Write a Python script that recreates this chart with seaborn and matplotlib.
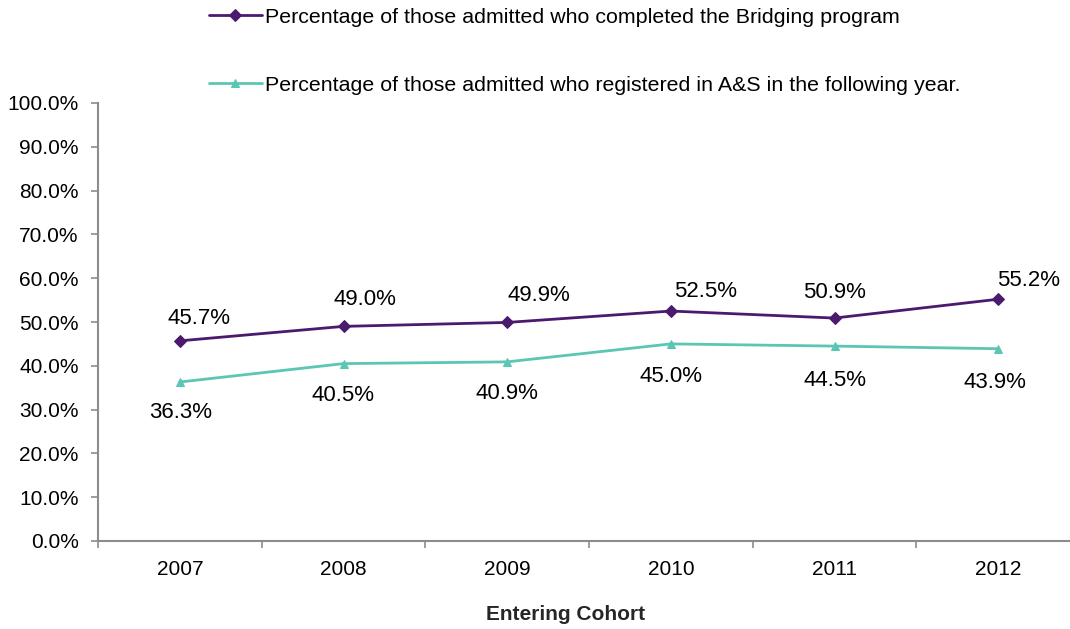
import numpy as np
import pandas as pd
import matplotlib
matplotlib.use("Agg")
import matplotlib.pyplot as plt
import seaborn as sns
from matplotlib.ticker import FixedLocator, PercentFormatter

years = ["2007", "2008", "2009", "2010", "2011", "2012"]
completed = [45.7, 49.0, 49.9, 52.5, 50.9, 55.2]
registered = [36.3, 40.5, 40.9, 45.0, 44.5, 43.9]
label_completed = "Percentage of those admitted who completed the Bridging program"
label_registered = "Percentage of those admitted who registered in A&S in the following year."
y_ticks = [0, 10, 20, 30, 40, 50, 60, 70, 80, 90, 100]

# label offsets in pixels (styling only)
off_completed = [(19, 22), (21, 27), (32, 27), (35, 20), (0, 26), (30, 19)]
off_registered = [(1, -30), (0, -32), (0, -32), (0, -33), (0, -34), (-3, -34)]

sns.set_theme(style="white")
plt.rcParams["font.family"] = ["Liberation Sans", "DejaVu Sans"]

purple = "#4B1A6E"
teal = "#5CC6B4"
gray = "#8C8C8C"

fig = plt.figure(figsize=(10.70, 6.29), dpi=100)
ax = fig.add_axes([98 / 1070, 88 / 629, 982 / 1070, 438 / 629])

x = np.arange(len(years))
df1 = pd.DataFrame({"x": x, "v": completed})
df2 = pd.DataFrame({"x": x, "v": registered})
sns.lineplot(data=df1, x="x", y="v", ax=ax, color=purple, marker="D", markersize=7,
             markeredgecolor=purple, linewidth=2, label=label_completed)
sns.lineplot(data=df2, x="x", y="v", ax=ax, color=teal, marker="^", markersize=9,
             markeredgecolor=teal, linewidth=2, label=label_registered)

for xi, v, (dx, dy) in zip(x, completed, off_completed):
    ax.annotate(f"{v:.1f}%", (xi, v), xytext=(dx * 0.72, dy * 0.72), textcoords="offset points",
                ha="center", va="center", fontsize=16, color="black")
for xi, v, (dx, dy) in zip(x, registered, off_registered):
    ax.annotate(f"{v:.1f}%", (xi, v), xytext=(dx * 0.72, dy * 0.72), textcoords="offset points",
                ha="center", va="center", fontsize=16, color="black")

ax.set_xlim(-0.5, len(years) - 0.5)
ax.set_ylim(0, 100)
ax.set_yticks(y_ticks)
ax.yaxis.set_major_formatter(PercentFormatter(decimals=1))
ax.set_xticks(x)
ax.set_xticklabels(years)
ax.xaxis.set_minor_locator(FixedLocator(np.arange(-0.5, len(years), 1.0)))
ax.tick_params(axis="x", which="major", length=0, pad=14, labelsize=15, colors="black")
ax.tick_params(axis="x", which="minor", length=5, width=1.2, color=gray, direction="out", bottom=True)
ax.tick_params(axis="y", which="major", length=5, width=1.2, color=gray, direction="out",
               left=True, pad=9, labelsize=15, labelcolor="black")
ax.set_xlabel("")
ax.set_ylabel("")
for s in ["top", "right"]:
    ax.spines[s].set_visible(False)
for s in ["left", "bottom"]:
    ax.spines[s].set_color(gray)
    ax.spines[s].set_linewidth(1.5)
ax.grid(False)

handles, labels = ax.get_legend_handles_labels()
for h in handles:
    h.set_markersize(6)
ax.legend(handles, labels, loc="upper left", bbox_to_anchor=(200 / 1070, 1 + 1 / 629),
          bbox_transform=fig.transFigure, frameon=False, fontsize=15.4, labelspacing=2.29,
          handlelength=2.5, handletextpad=0.15, borderaxespad=0, labelcolor="black")

fig.text(566 / 1070, 1 - 614 / 629, "Entering Cohort", ha="center", va="center",
         fontsize=15, fontweight="bold")

fig.savefig("out.png", dpi=100)
